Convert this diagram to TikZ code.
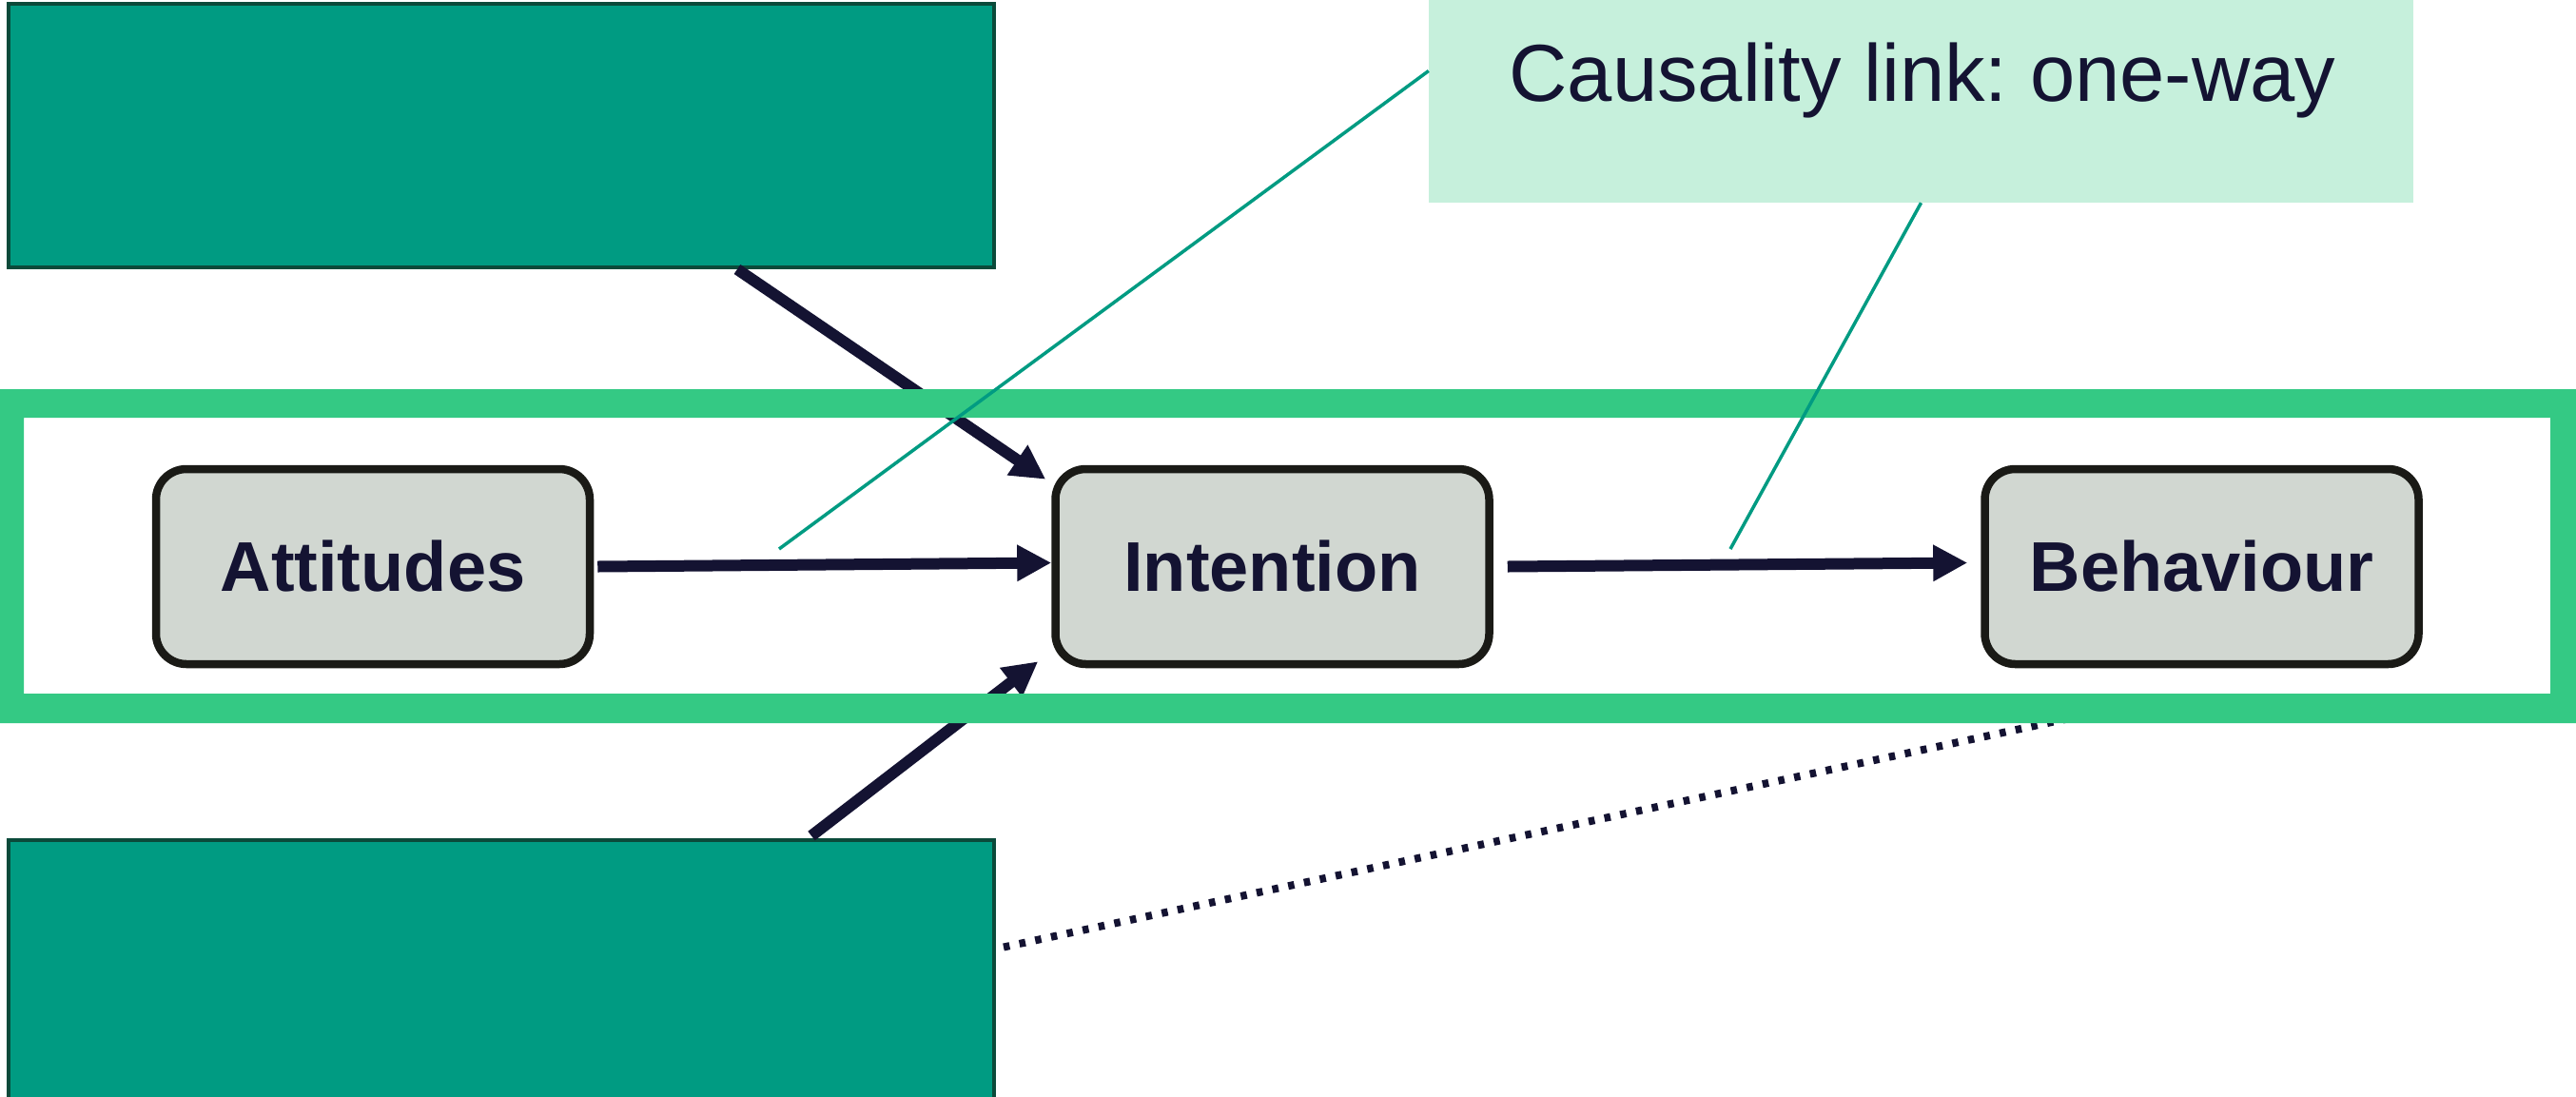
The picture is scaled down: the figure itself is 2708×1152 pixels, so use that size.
\documentclass[tikz,border=0pt]{standalone}
\usepackage{fontspec}
\setmainfont{Liberation Sans}
\usetikzlibrary{arrows.meta,calc}

\definecolor{tealfill}{RGB}{0,155,130}
\definecolor{tealedge}{RGB}{11,74,58}
\definecolor{framegreen}{RGB}{52,201,132}
\definecolor{calloutfill}{RGB}{198,240,220}
\definecolor{stagefill}{RGB}{209,215,209}
\definecolor{stageedge}{RGB}{26,26,22}
\definecolor{navy}{RGB}{20,19,50}

\frenchspacing
\begin{document}
\begin{tikzpicture}[x=1pt,y=-1pt,
  factorbox/.style={draw=tealedge, fill=tealfill, line width=4pt,
    minimum width=1036pt, minimum height=277pt, inner sep=0pt},
  stage/.style={draw=stageedge, fill=stagefill, line width=8.5pt,
    rounded corners=32pt, minimum width=456pt, minimum height=205pt,
    inner sep=0pt, text=navy, font=\fontsize{74}{80}\selectfont\bfseries},
  link/.style={draw=navy, line width=12pt,
    -{Triangle[length=36pt,width=36pt]}},
  weaklink/.style={draw=navy, line width=8pt, dash pattern=on 6.5pt off 10.5pt},
  callbox/.style={fill=calloutfill, draw=none, minimum width=1035pt,
    minimum height=213pt, inner sep=0pt},
  pointer/.style={draw=tealfill, line width=3.5pt}]

\useasboundingbox (0,0) rectangle (2708,1152);
\clip (0,0) rectangle (2708,1152);

% outside factors
\node[factorbox] (topbox) at (527,142.5) {};
\node[factorbox] (botbox) at (527,1021) {};

% the three stages
\node[stage] (att) at (392,595.5) {Attitudes};
\node[stage] (int) at (1337.5,595.5) {Intention};
\node[stage] (beh) at (2314.5,595.5) {Behaviour};

% causal links
\draw[link] ($(topbox.south west)+(768,0)$) -- ($(int.north west)+(-6,15)$);
\draw[link] ($(att.east)+(4,0)$) -- ($(int.west)+(0,-4)$);
\draw[link] ($(int.east)+(15,0)$) -- ($(beh.west)+(-14,-4)$);
\draw[link] ($(botbox.north west)+(846,-2)$) -- ($(int.south west)+(-14,-7)$);

% weaker influence running under the frame
\coordinate (weakend) at (2222,745);
\draw[weaklink] ($(botbox.north east)+(8,115)$) -- (weakend);

% frame around the core sequence
\fill[framegreen, even odd rule]
  (0,409) rectangle (2708,760)
  (25,439) rectangle (2681,729);

% callout
\node[callbox] (callout) at (2019.5,106.5) {};
\node[font=\fontsize{85}{90}\selectfont, text=navy, anchor=base]
  (calltext) at (2021,106) {Causality link: one-way};

\coordinate (tipA) at (819,577);
\coordinate (tipB) at (1819,577);
\draw[pointer] ($(callout.west)+(0,-32)$) -- (tipA);
\draw[pointer] (callout.south) -- (tipB);
\end{tikzpicture}
\end{document}
